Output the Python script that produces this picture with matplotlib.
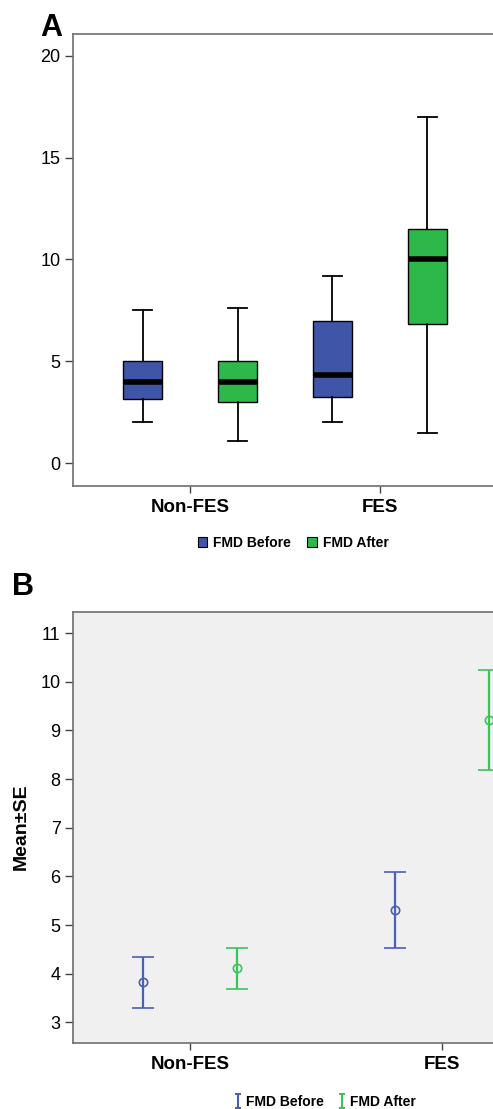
import numpy as np
import matplotlib
matplotlib.use("Agg")
import matplotlib.pyplot as plt
from matplotlib.patches import Patch
from matplotlib.lines import Line2D
from matplotlib.path import Path

plt.rcParams['font.family'] = ['Liberation Sans', 'DejaVu Sans']

groups = ['Non-FES', 'FES']
series = ['FMD Before', 'FMD After']

# panel A: box plot stats (whislo, q1, med, q3, whishi) per group
before_box = [[2.0, 3.13, 4.0, 5.0, 7.53],
              [2.0, 3.25, 4.3, 7.0, 9.18]]
after_box = [[1.1, 3.02, 4.0, 5.0, 7.6],
             [1.48, 6.82, 10.0, 11.49, 17.0]]

# panel B: mean, lower, upper
before_mean = [3.83, 5.30]
before_lo = [3.29, 4.52]
before_hi = [4.35, 6.09]
after_mean = [4.12, 9.21]
after_lo = [3.69, 8.19]
after_hi = [4.53, 10.24]

blue = '#3f56a8'
green = '#2fb84a'
eblue = '#4a5fb5'
egreen = '#3cc35a'
spine_c = '#6e6e6e'

W, H = 493, 1109
fig = plt.figure(figsize=(W / 100, H / 100), dpi=100)


def px_axes(left, top, right, bottom):
    return fig.add_axes([left / W, 1 - bottom / H, (right - left) / W, (bottom - top) / H])


def style(ax):
    for s in ['left', 'bottom', 'top']:
        ax.spines[s].set_color(spine_c)
        ax.spines[s].set_linewidth(1.2)
    ax.spines['right'].set_visible(False)
    ax.tick_params(axis='y', length=6, width=1, color='#444444', labelsize=13, pad=3)
    ax.tick_params(axis='x', length=5, width=1, color='#444444', labelsize=13.5, pad=4)
    for lab in ax.get_xticklabels():
        lab.set_fontweight('bold')


# ---- panel A
axA = px_axes(73, 34, 497, 486)
x = np.arange(len(groups))
off = 0.25
for boxes, dx, col in [(before_box, -off, blue), (after_box, off, green)]:
    stats = []
    for b in boxes:
        stats.append(dict(whislo=b[0], q1=b[1], med=b[2], q3=b[3], whishi=b[4], fliers=[]))
    axA.bxp(stats, positions=x + dx, widths=0.205, capwidths=0.1, patch_artist=True,
            showfliers=False,
            boxprops=dict(facecolor=col, edgecolor='black', linewidth=1),
            medianprops=dict(color='black', linewidth=4, solid_capstyle='butt'),
            whiskerprops=dict(color='black', linewidth=1.3),
            capprops=dict(color='black', linewidth=1.3))
axA.set_xlim(-0.616, 1.616)
axA.set_ylim(-1.13, 21.08)
axA.set_yticks([0, 5, 10, 15, 20])
axA.set_xticks(x)
axA.set_xticklabels(groups)
style(axA)

fig.legend(handles=[Patch(facecolor=blue, edgecolor='black', lw=0.8),
                    Patch(facecolor=green, edgecolor='black', lw=0.8)],
           labels=series, loc='center', bbox_to_anchor=(293 / W, 1 - 543 / H),
           ncol=2, frameon=False, prop=dict(size=10, weight='bold'),
           handlelength=0.7, handleheight=0.7, handletextpad=0.4, columnspacing=1.2)

fig.text(40 / W, 1 - 36 / H, 'A', fontsize=22, fontweight='bold', va='baseline')

# ---- panel B
axB = px_axes(73, 611.7, 559, 1043.3)
axB.set_facecolor('#f0f0f0')
offB = 0.185
for m, lo, hi, dx, col, lw in [(before_mean, before_lo, before_hi, -offB, eblue, 1.6),
                               (after_mean, after_lo, after_hi, offB, egreen, 1.6)]:
    m = np.array(m)
    yerr = [m - np.array(lo), np.array(hi) - m]
    axB.errorbar(x + dx, m, yerr=yerr, fmt='o', ms=6, mfc='none', mec=col, mew=1.2,
                 ecolor=col, elinewidth=lw, capsize=8, capthick=lw)
axB.set_xlim(-0.464, 1.464)
axB.set_ylim(2.57, 11.44)
axB.set_yticks(range(3, 12))
axB.set_xticks(x)
axB.set_xticklabels(groups)
style(axB)

fig.text(21.5 / W, 1 - 827 / H, 'Mean\u00b1SE', rotation=90, ha='center', va='center',
         fontsize=14, fontweight='bold')
fig.text(12 / W, 1 - 595 / H, 'B', fontsize=22, fontweight='bold', va='baseline')

ibar = Path([(-0.5, 1), (0.5, 1), (0, 1), (0, -1), (-0.5, -1), (0.5, -1)],
            [Path.MOVETO, Path.LINETO, Path.MOVETO, Path.LINETO, Path.MOVETO, Path.LINETO])
fig.legend(handles=[Line2D([], [], ls='none', marker=ibar, ms=10, mec=eblue, mew=1.5),
                    Line2D([], [], ls='none', marker=ibar, ms=10, mec=egreen, mew=1.5)],
           labels=series, loc='center', bbox_to_anchor=(325 / W, 1 - 1102 / H),
           ncol=2, frameon=False, prop=dict(size=10, weight='bold'),
           handlelength=0.6, handletextpad=0.3, columnspacing=1.0, borderpad=0)

fig.savefig('out.png', dpi=100)
